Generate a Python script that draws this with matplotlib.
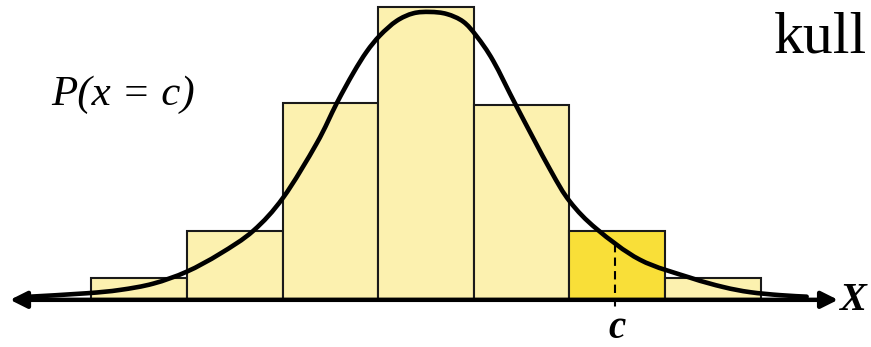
import matplotlib
matplotlib.use('Agg')
import matplotlib.pyplot as plt
from matplotlib.patches import FancyArrowPatch, PathPatch
from matplotlib.path import Path

# bar centres (bin units) and heights (probability)
bin_centers = [-3, -2, -1, 0, 1, 2, 3]
bar_heights = [0.025, 0.08, 0.23, 0.342, 0.227, 0.08, 0.025]
highlight_bin = 2

# density curve, points
curve_x = [-4.142, -3.549, -3.201, -2.853, -2.503, -2.155, -1.806, -1.493, -1.143, -0.934,
           -0.760, -0.620, -0.481, -0.307, -0.133, 0.042, 0.217, 0.390, 0.530, 0.704,
           0.949, 1.297, 1.506, 1.786, 2.238, 2.762, 3.110, 3.389, 3.703, 3.982]
curve_y = [0.0027, 0.0067, 0.0106, 0.0180, 0.0320, 0.0530, 0.0800, 0.1190, 0.1825, 0.2294,
           0.2650, 0.2900, 0.3090, 0.3260, 0.3349, 0.3365, 0.3341, 0.3251, 0.3080, 0.2790,
           0.2254, 0.1520, 0.1141, 0.0820, 0.0460, 0.0250, 0.0140, 0.0080, 0.0045, 0.0027]

c_value = 1.977
c_curve = 0.0640

light_yellow = '#FCF1AF'
strong_yellow = '#F9DF38'


def smooth_path(xs, ys):
    # Catmull-Rom style bezier through the read points (drawing only)
    verts = [(xs[0], ys[0])]
    codes = [Path.MOVETO]
    n = len(xs)
    for i in range(n - 1):
        x0, y0 = xs[max(i - 1, 0)], ys[max(i - 1, 0)]
        x1, y1 = xs[i], ys[i]
        x2, y2 = xs[i + 1], ys[i + 1]
        x3, y3 = xs[min(i + 2, n - 1)], ys[min(i + 2, n - 1)]
        verts += [(x1 + (x2 - x0) / 6, y1 + (y2 - y0) / 6),
                  (x2 - (x3 - x1) / 6, y2 - (y3 - y1) / 6),
                  (x2, y2)]
        codes += [Path.CURVE4] * 3
    return Path(verts, codes)


fig = plt.figure(figsize=(8.71, 3.47), dpi=100)
ax = fig.add_axes([0, 0, 1, 1])
ax.set_xlim(-4.456, 4.655)
ax.set_ylim(-0.0563, 0.3505)
ax.axis('off')

colors = [strong_yellow if b == highlight_bin else light_yellow for b in bin_centers]
ax.bar(bin_centers, bar_heights, width=1.0, color=colors, edgecolor='#1a1a1a',
       linewidth=1.5, zorder=1)

# dashed marker at c
ax.plot([c_value, c_value], [c_curve, -0.013], color='black', linestyle=(0, (4, 2.5)),
        linewidth=1.5, zorder=2)

curve = PathPatch(smooth_path(curve_x, curve_y), facecolor='none', edgecolor='black',
                  linewidth=3.3, capstyle='round', joinstyle='round', zorder=3)
ax.add_patch(curve)

# horizontal axis with arrowheads on both ends
arrow = FancyArrowPatch((-4.351, -0.001), (4.31, -0.001),
                        arrowstyle='<|-|>,head_length=10,head_width=5',
                        mutation_scale=1, color='black', linewidth=3.2,
                        shrinkA=0, shrinkB=0, zorder=4)
ax.add_patch(arrow)

ax.text(4.456, -0.002, 'X', fontsize=29, fontweight='bold', fontstyle='italic',
        family='Liberation Serif', ha='center', va='center')
ax.text(2.0, -0.046, 'c', fontsize=28, fontweight='bold', fontstyle='italic',
        family='Liberation Serif', ha='center', va='baseline')
ax.text(-3.92, 0.2274, 'P(x = c)', fontsize=31, fontstyle='italic',
        family='Liberation Serif', ha='left', va='baseline')
ax.text(4.61, 0.2884, 'kull', fontsize=43, family='Liberation Serif',
        ha='right', va='baseline')

fig.savefig('out.png', dpi=100)
